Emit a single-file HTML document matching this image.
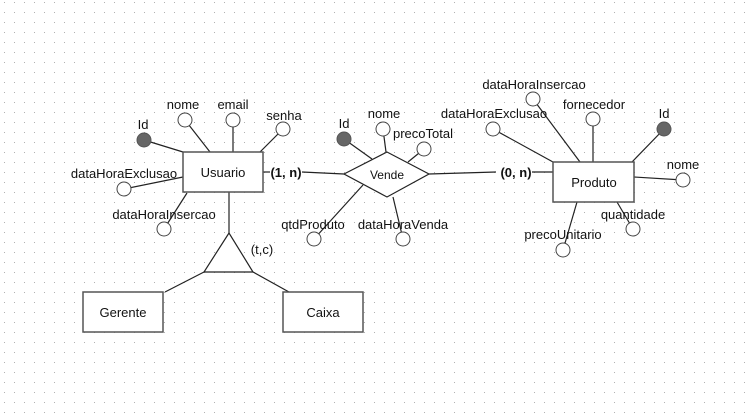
<!DOCTYPE html>
<html><head><meta charset="utf-8"><style>
html,body{margin:0;padding:0;background:#fff;}
svg{display:block;}
text{font-family:"Liberation Sans",sans-serif;font-size:13px;fill:#111;}
</style></head><body>
<svg width="747" height="416" viewBox="0 0 747 416" xmlns="http://www.w3.org/2000/svg">
<defs><pattern id="g" x="4" y="2" width="10" height="10" patternUnits="userSpaceOnUse"><rect x="0" y="0" width="1" height="1" fill="#b0b0b0"/></pattern></defs>
<rect width="747" height="416" fill="url(#g)"/>
<g stroke="#222" stroke-width="1.2" fill="none">
<!-- Usuario lines -->
<line x1="144" y1="140" x2="183" y2="152"/>
<line x1="185" y1="120" x2="210" y2="152"/>
<line x1="233" y1="120" x2="233" y2="152"/>
<line x1="283" y1="129" x2="260" y2="152"/>
<line x1="124" y1="189" x2="183" y2="177"/>
<line x1="164" y1="229" x2="187" y2="193"/>
<line x1="229" y1="192" x2="229" y2="233"/>
<line x1="204" y1="272" x2="165" y2="292"/>
<line x1="253" y1="272" x2="289" y2="292"/>
<line x1="263" y1="172" x2="270" y2="172"/>
<line x1="302" y1="172" x2="344" y2="174"/>
<!-- Vende lines -->
<line x1="344" y1="139" x2="372" y2="159"/>
<line x1="383" y1="129" x2="386" y2="152"/>
<line x1="424" y1="149" x2="408" y2="162"/>
<line x1="314" y1="239" x2="363" y2="185"/>
<line x1="403" y1="239" x2="393" y2="197"/>
<line x1="429" y1="174" x2="496" y2="172"/>
<line x1="532" y1="172" x2="553" y2="172"/>
<!-- Produto lines -->
<line x1="533" y1="99" x2="580" y2="162"/>
<line x1="593" y1="119" x2="593" y2="162"/>
<line x1="493" y1="129" x2="553" y2="162"/>
<line x1="664" y1="129" x2="632" y2="162"/>
<line x1="683" y1="180" x2="634" y2="177"/>
<line x1="633" y1="229" x2="617" y2="202"/>
<line x1="563" y1="250" x2="577" y2="202"/>
</g>
<g stroke="#555" stroke-width="1.5" fill="#fff">
<rect x="183" y="152" width="80" height="40"/>
<rect x="83" y="292" width="80" height="40"/>
<rect x="283" y="292" width="80" height="40"/>
<rect x="553" y="162" width="81" height="40"/>
</g>
<g stroke="#222" stroke-width="1.2" fill="#fff">
<polygon points="229,233 204,272 253,272"/>
<polygon points="344,174 387,152 429,174 387,197"/>
</g>
<g stroke="#444" stroke-width="1" fill="#fff">
<circle cx="185" cy="120" r="7"/><circle cx="233" cy="120" r="7"/><circle cx="283" cy="129" r="7"/>
<circle cx="124" cy="189" r="7"/><circle cx="164" cy="229" r="7"/>
<circle cx="383" cy="129" r="7"/><circle cx="424" cy="149" r="7"/>
<circle cx="314" cy="239" r="7"/><circle cx="403" cy="239" r="7"/>
<circle cx="533" cy="99" r="7"/><circle cx="593" cy="119" r="7"/><circle cx="493" cy="129" r="7"/>
<circle cx="683" cy="180" r="7"/><circle cx="633" cy="229" r="7"/><circle cx="563" cy="250" r="7"/>
</g>
<g fill="#666" stroke="#555"><circle cx="144" cy="140" r="7"/><circle cx="344" cy="139" r="7"/><circle cx="664" cy="129" r="7"/></g>
<g text-anchor="middle">
<text x="223" y="177">Usuario</text>
<text x="123" y="317">Gerente</text>
<text x="323" y="317">Caixa</text>
<text x="387" y="179" style="font-size:12px">Vende</text>
<text x="594" y="187">Produto</text>
<text x="143" y="129">Id</text>
<text x="183" y="109">nome</text>
<text x="233" y="109">email</text>
<text x="284" y="120">senha</text>
<text x="124" y="178">dataHoraExclusao</text>
<text x="164" y="219">dataHoraInsercao</text>
<text x="262" y="254">(t,c)</text>
<text x="286" y="177" style="font-weight:bold">(1, n)</text>
<text x="344" y="128">Id</text>
<text x="384" y="118">nome</text>
<text x="423" y="138">precoTotal</text>
<text x="313" y="229">qtdProduto</text>
<text x="403" y="229">dataHoraVenda</text>
<text x="516" y="177" style="font-weight:bold">(0, n)</text>
<text x="534" y="89">dataHoraInsercao</text>
<text x="594" y="109">fornecedor</text>
<text x="494" y="118">dataHoraExclusao</text>
<text x="664" y="118">Id</text>
<text x="683" y="169">nome</text>
<text x="633" y="219">quantidade</text>
<text x="563" y="239">precoUnitario</text>
</g>
</svg>
</body></html>
